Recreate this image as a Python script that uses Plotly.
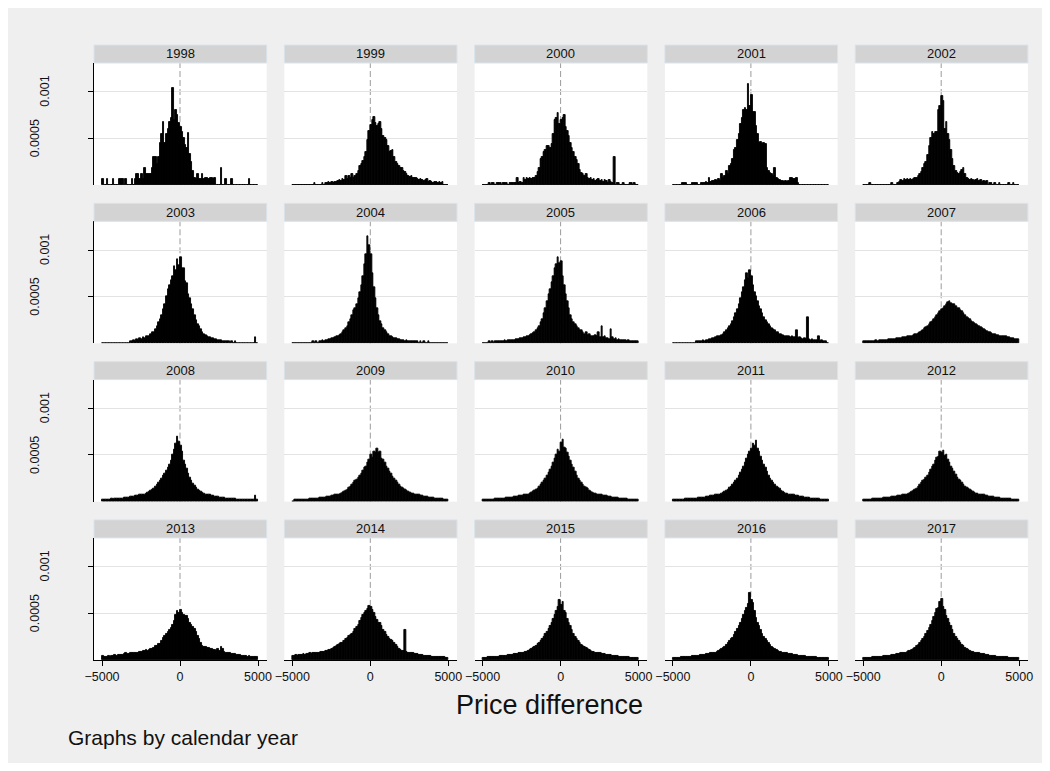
import plotly.graph_objects as go

# Histogram densities of the price difference, one list per calendar year.
# Bins are 100 wide, from -5000 to 5000; values are in units of 1e-5.
bin_width = 100
bin_centers = [-4950 + bin_width * i for i in range(100)]

d1998 = [6, 0, 0, 6, 0, 0, 0, 6, 0, 0,
         0, 6, 6, 6, 0, 6, 0, 0, 0, 6,
         0, 6, 12, 12, 6, 12, 6, 18, 12, 12,
         12, 12, 18, 30, 30, 22, 30, 45, 55, 68,
         45, 55, 60, 67, 72, 104, 70, 80, 75, 66,
         62, 57, 50, 43, 40, 56, 33, 25, 15, 8,
         6, 12, 6, 6, 12, 6, 7, 7, 6, 7,
         7, 6, 7, 0, 0, 0, 18, 0, 0, 6,
         0, 0, 0, 6, 0, 0, 0, 0, 0, 0,
         0, 0, 0, 0, 6, 0, 0, 0, 0, 0]
d1999 = [0, 0, 0, 0, 0, 0, 0, 0, 0, 0,
         0, 0, 0, 0, 2, 0, 0, 0, 0, 2,
         0, 2, 2, 3, 2, 3, 2, 3, 3, 4,
         5, 4, 6, 5, 10, 6, 10, 8, 12, 8,
         10, 12, 15, 20, 22, 26, 30, 35, 48, 58,
         64, 70, 73, 66, 63, 65, 68, 60, 52, 50,
         48, 42, 35, 36, 38, 30, 25, 22, 20, 18,
         18, 15, 14, 12, 10, 9, 10, 8, 7, 8,
         6, 5, 6, 5, 4, 5, 6, 3, 4, 3,
         2, 3, 3, 2, 3, 2, 3, 0, 0, 0]
d2000 = [0, 0, 0, 0, 2, 0, 2, 2, 0, 2,
         2, 2, 0, 2, 2, 2, 0, 2, 2, 2,
         2, 2, 8, 2, 3, 2, 7, 5, 7, 6,
         7, 6, 7, 8, 10, 14, 18, 28, 30, 35,
         38, 42, 42, 40, 44, 55, 70, 72, 77, 65,
         70, 72, 75, 62, 58, 52, 45, 40, 35, 30,
         27, 22, 16, 13, 12, 10, 12, 8, 6, 7,
         5, 6, 4, 5, 6, 4, 5, 3, 5, 4,
         2, 5, 3, 2, 30, 0, 2, 2, 0, 0,
         2, 0, 0, 0, 2, 2, 0, 2, 0, 0]
d2001 = [0, 0, 0, 0, 0, 0, 2, 2, 2, 0,
         0, 0, 2, 2, 2, 2, 0, 0, 2, 2,
         2, 3, 2, 8, 3, 4, 4, 5, 4, 6,
         4, 12, 8, 10, 15, 12, 20, 22, 28, 38,
         40, 48, 55, 65, 72, 80, 82, 80, 108, 85,
         97, 78, 78, 63, 55, 45, 46, 44, 45, 44,
         18, 15, 13, 12, 10, 18, 8, 6, 5, 4,
         4, 3, 4, 3, 4, 8, 8, 6, 6, 7,
         2, 0, 0, 0, 0, 0, 0, 0, 0, 0,
         0, 0, 0, 0, 0, 0, 0, 0, 0, 0]
d2002 = [0, 0, 0, 0, 2, 0, 0, 0, 0, 0,
         0, 0, 0, 0, 0, 0, 0, 0, 2, 0,
         0, 0, 2, 3, 5, 4, 6, 5, 6, 5,
         6, 5, 6, 7, 8, 10, 12, 14, 18, 22,
         25, 32, 42, 50, 57, 55, 57, 57, 80, 85,
         95, 90, 60, 67, 55, 48, 38, 28, 20, 15,
         13, 12, 14, 16, 18, 12, 8, 6, 5, 6,
         5, 4, 5, 6, 4, 5, 3, 4, 3, 4,
         0, 2, 2, 0, 2, 0, 0, 2, 0, 0,
         0, 0, 0, 2, 0, 0, 2, 0, 0, 0]
d2003 = [0, 0, 0, 0, 0, 0, 0, 0, 0, 0,
         0, 0, 0, 0, 0, 0, 0, 0, 2, 2,
         3, 2, 4, 3, 5, 4, 6, 5, 7, 8,
         8, 10, 12, 12, 15, 18, 22, 26, 30, 36,
         42, 50, 58, 62, 68, 72, 82, 78, 90, 84,
         92, 80, 80, 66, 64, 52, 48, 42, 36, 30,
         25, 20, 18, 15, 12, 10, 9, 8, 6, 6,
         5, 5, 4, 4, 3, 3, 3, 2, 2, 2,
         2, 2, 0, 2, 0, 2, 0, 0, 0, 0,
         0, 0, 0, 0, 0, 0, 0, 0, 6, 0]
d2004 = [0, 0, 0, 0, 0, 0, 0, 0, 0, 0,
         0, 0, 0, 2, 0, 2, 0, 2, 2, 3,
         2, 3, 3, 4, 4, 5, 5, 6, 7, 8,
         9, 10, 12, 14, 16, 18, 22, 26, 30, 35,
         38, 42, 48, 55, 62, 72, 85, 95, 115, 105,
         95, 75, 60, 48, 38, 30, 24, 20, 16, 14,
         12, 10, 8, 7, 6, 5, 5, 4, 4, 3,
         3, 3, 2, 3, 2, 2, 2, 2, 2, 2,
         2, 0, 2, 0, 2, 0, 0, 2, 0, 0,
         0, 0, 0, 0, 0, 0, 0, 0, 0, 0]
d2005 = [0, 0, 0, 0, 2, 0, 2, 0, 2, 2,
         2, 2, 2, 2, 3, 2, 3, 3, 3, 3,
         3, 4, 4, 4, 5, 5, 6, 6, 7, 8,
         9, 10, 11, 12, 14, 16, 18, 22, 26, 32,
         38, 45, 52, 58, 65, 72, 80, 85, 92, 86,
         88, 72, 62, 52, 45, 38, 30, 26, 22, 20,
         18, 16, 14, 14, 12, 10, 12, 9, 10, 8,
         8, 7, 9, 7, 12, 6, 18, 6, 8, 5,
         5, 4, 15, 6, 4, 5, 3, 4, 3, 3,
         3, 3, 2, 3, 2, 2, 2, 2, 2, 2]
d2006 = [0, 0, 0, 0, 0, 0, 0, 0, 0, 0,
         0, 0, 0, 0, 0, 2, 2, 2, 2, 3,
         2, 3, 3, 4, 4, 5, 5, 6, 7, 8,
         8, 9, 10, 12, 14, 16, 18, 20, 24, 28,
         32, 36, 42, 48, 55, 60, 68, 75, 70, 78,
         72, 62, 55, 50, 45, 40, 36, 32, 28, 25,
         22, 20, 18, 16, 15, 14, 12, 12, 10, 10,
         9, 8, 8, 7, 7, 6, 7, 6, 6, 14,
         5, 6, 5, 4, 5, 4, 28, 4, 3, 4,
         3, 3, 3, 8, 2, 3, 2, 2, 2, 0]
d2007 = [2, 2, 2, 2, 2, 2, 2, 2, 3, 2,
         3, 3, 3, 3, 3, 3, 4, 4, 4, 4,
         4, 5, 5, 5, 5, 6, 6, 6, 7, 7,
         8, 8, 9, 10, 10, 11, 12, 13, 14, 16,
         17, 18, 20, 22, 24, 26, 28, 30, 32, 34,
         36, 38, 40, 42, 44, 45, 43, 42, 42, 40,
         38, 37, 35, 34, 32, 30, 28, 27, 26, 24,
         22, 21, 20, 19, 18, 17, 16, 15, 14, 13,
         12, 12, 11, 10, 10, 9, 9, 8, 8, 7,
         7, 7, 6, 6, 5, 5, 5, 4, 4, 4]
d2008 = [2, 2, 2, 2, 2, 2, 3, 2, 3, 3,
         3, 3, 3, 3, 4, 4, 4, 4, 5, 5,
         5, 6, 6, 6, 7, 7, 8, 8, 9, 10,
         11, 12, 13, 14, 16, 18, 20, 22, 25, 28,
         30, 33, 36, 40, 44, 50, 56, 62, 70, 64,
         60, 54, 44, 40, 35, 30, 26, 22, 19, 17,
         15, 13, 12, 11, 10, 9, 8, 8, 7, 7,
         6, 6, 5, 5, 5, 4, 4, 4, 4, 3,
         3, 3, 3, 3, 3, 3, 2, 2, 2, 2,
         2, 2, 2, 2, 2, 2, 2, 2, 6, 2]
d2009 = [0, 2, 2, 2, 2, 2, 2, 2, 2, 2,
         2, 3, 3, 3, 3, 3, 3, 4, 4, 4,
         4, 4, 5, 5, 5, 6, 6, 7, 7, 8,
         8, 9, 10, 11, 12, 13, 15, 16, 18, 20,
         22, 24, 26, 28, 30, 33, 36, 38, 42, 45,
         50, 47, 54, 52, 57, 52, 54, 46, 45, 42,
         38, 35, 32, 30, 27, 25, 22, 20, 18, 16,
         15, 14, 13, 12, 11, 10, 9, 9, 8, 8,
         7, 7, 6, 6, 5, 5, 5, 4, 4, 4,
         4, 3, 3, 3, 3, 3, 3, 2, 2, 2]
d2010 = [2, 2, 2, 2, 2, 2, 2, 2, 3, 3,
         3, 3, 3, 3, 3, 4, 4, 4, 4, 4,
         5, 5, 5, 6, 6, 6, 7, 7, 8, 8,
         9, 10, 11, 12, 13, 14, 16, 18, 20, 22,
         25, 28, 31, 34, 38, 42, 46, 50, 56, 54,
         63, 66, 58, 57, 52, 48, 44, 40, 36, 32,
         28, 25, 22, 20, 18, 16, 15, 14, 12, 11,
         10, 9, 9, 8, 8, 7, 7, 6, 6, 6,
         5, 5, 5, 4, 4, 4, 4, 3, 3, 3,
         3, 3, 3, 2, 2, 2, 2, 2, 2, 2]
d2011 = [2, 2, 2, 2, 2, 2, 2, 2, 3, 3,
         3, 3, 3, 3, 3, 3, 4, 4, 4, 4,
         4, 5, 5, 5, 6, 6, 6, 7, 7, 8,
         8, 9, 10, 11, 12, 13, 15, 16, 18, 20,
         22, 25, 28, 31, 34, 38, 42, 46, 50, 54,
         57, 62, 60, 65, 57, 54, 48, 44, 40, 36,
         32, 28, 25, 22, 20, 18, 16, 15, 14, 12,
         11, 10, 9, 9, 8, 8, 7, 7, 6, 6,
         6, 5, 5, 5, 4, 4, 4, 4, 3, 3,
         3, 3, 3, 3, 2, 2, 2, 2, 2, 2]
d2012 = [2, 2, 2, 2, 2, 2, 3, 3, 3, 3,
         3, 3, 3, 4, 4, 4, 4, 4, 5, 5,
         5, 5, 6, 6, 6, 7, 7, 8, 8, 9,
         10, 11, 12, 13, 14, 16, 18, 20, 22, 24,
         26, 28, 31, 34, 37, 40, 44, 47, 48, 54,
         52, 55, 49, 50, 45, 42, 38, 35, 32, 29,
         26, 24, 22, 20, 18, 16, 15, 14, 13, 12,
         11, 10, 9, 9, 8, 8, 7, 7, 6, 6,
         5, 5, 5, 5, 4, 4, 4, 4, 3, 3,
         3, 3, 3, 3, 3, 2, 2, 2, 2, 2]
d2013 = [4, 3, 3, 3, 4, 3, 4, 4, 5, 4,
         5, 5, 5, 5, 6, 7, 6, 6, 7, 7,
         7, 8, 8, 8, 9, 9, 10, 10, 11, 10,
         11, 12, 12, 13, 15, 15, 17, 17, 20, 24,
         26, 28, 30, 32, 34, 38, 42, 48, 52, 50,
         54, 50, 48, 47, 47, 44, 40, 38, 35, 33,
         30, 26, 22, 18, 15, 14, 14, 13, 13, 12,
         12, 11, 11, 10, 12, 10, 14, 12, 9, 8,
         8, 7, 7, 6, 6, 6, 5, 5, 5, 4,
         4, 4, 4, 3, 4, 3, 3, 3, 3, 3]
d2014 = [4, 4, 5, 4, 5, 5, 5, 6, 5, 6,
         6, 7, 6, 7, 7, 8, 8, 8, 9, 9,
         9, 10, 10, 11, 11, 12, 13, 14, 15, 16,
         17, 18, 18, 20, 22, 24, 26, 27, 28, 30,
         33, 35, 38, 42, 45, 48, 50, 52, 55, 58,
         57, 54, 50, 46, 43, 40, 40, 36, 32, 30,
         27, 25, 23, 21, 20, 18, 16, 14, 12, 11,
         10, 10, 32, 9, 8, 8, 7, 7, 6, 6,
         6, 5, 5, 5, 4, 4, 4, 4, 4, 3,
         3, 3, 3, 3, 3, 3, 3, 3, 2, 2]
d2015 = [2, 2, 2, 3, 3, 3, 3, 3, 3, 3,
         3, 4, 4, 4, 4, 4, 5, 5, 5, 5,
         6, 6, 6, 7, 7, 8, 8, 9, 9, 10,
         11, 12, 13, 14, 15, 17, 18, 20, 22, 25,
         28, 30, 33, 36, 40, 44, 48, 53, 57, 64,
         59, 62, 52, 50, 44, 40, 36, 32, 28, 25,
         22, 20, 18, 16, 15, 14, 13, 12, 11, 10,
         9, 9, 8, 8, 7, 7, 6, 6, 6, 5,
         5, 5, 5, 4, 4, 4, 4, 3, 3, 3,
         3, 3, 3, 3, 2, 2, 2, 2, 2, 2]
d2016 = [2, 2, 2, 2, 2, 3, 3, 3, 3, 3,
         3, 3, 4, 4, 4, 4, 4, 5, 5, 5,
         5, 6, 6, 6, 7, 7, 8, 8, 9, 10,
         11, 12, 13, 14, 16, 18, 20, 22, 24, 27,
         30, 33, 36, 40, 44, 48, 52, 56, 60, 72,
         64, 61, 52, 45, 40, 36, 32, 28, 25, 22,
         20, 18, 16, 14, 13, 12, 11, 10, 9, 9,
         8, 8, 7, 7, 6, 6, 6, 5, 5, 5,
         4, 4, 4, 4, 4, 3, 3, 3, 3, 3,
         3, 3, 2, 2, 2, 2, 2, 2, 2, 2]
d2017 = [2, 2, 2, 2, 2, 2, 3, 3, 3, 3,
         3, 3, 3, 4, 4, 4, 4, 4, 5, 5,
         5, 6, 6, 6, 7, 7, 8, 8, 9, 10,
         10, 11, 12, 13, 15, 16, 18, 20, 22, 25,
         28, 31, 34, 38, 42, 46, 50, 55, 56, 62,
         65, 57, 54, 47, 44, 40, 36, 32, 28, 25,
         22, 20, 18, 16, 15, 13, 12, 11, 10, 9,
         9, 8, 8, 7, 7, 6, 6, 6, 5, 5,
         5, 4, 4, 4, 4, 3, 3, 3, 3, 3,
         3, 3, 3, 2, 2, 2, 2, 2, 2, 2]

years = list(range(1998, 2018))
density = dict(zip(years, [d1998, d1999, d2000, d2001, d2002, d2003, d2004,
                           d2005, d2006, d2007, d2008, d2009, d2010, d2011,
                           d2012, d2013, d2014, d2015, d2016, d2017]))
unit = 1e-5

x_ticks = [-5000, 0, 5000]
y_ticks = [0.0005, 0.001]
y_tick_text = ["0.0005", "0.001"]

# Page geometry (pixels)
W, H = 1050, 771
n_cols, n_rows = 5, 4
col_left0, col_pitch, panel_w = 94.0, 190.3, 172.7
strip_top0, row_pitch, strip_h, plot_h = 45.0, 158.3, 18.0, 122.0
x_range = [-5513, 5558]
y_range = [0, 0.0013076]


def px(x):
    return x / W


def py(y):
    return 1 - y / H


BG = "#efefef"
FONT = "Liberation Sans, Arial, sans-serif"

fig = go.Figure()
layout = dict(
    width=W, height=H,
    margin=dict(l=0, r=0, t=0, b=0, pad=0),
    paper_bgcolor=BG,
    plot_bgcolor="white",
    showlegend=False,
    bargap=0,
    font=dict(family=FONT, color="#111111"),
)
shapes = []
annotations = []

for k, year in enumerate(years):
    r, c = divmod(k, n_cols)
    n = k + 1
    xs = "" if n == 1 else str(n)
    left = col_left0 + c * col_pitch
    right = left + panel_w
    s_top = strip_top0 + r * row_pitch
    p_top = s_top + strip_h
    p_bot = p_top + plot_h

    fig.add_trace(go.Bar(
        x=bin_centers,
        y=[v * unit for v in density[year]],
        width=bin_width,
        marker=dict(color="black", line=dict(color="black", width=0.9)),
        xaxis="x" + xs, yaxis="y" + xs,
        hoverinfo="skip",
    ))

    bottom_row = (r == n_rows - 1)
    first_col = (c == 0)
    layout["xaxis" + xs] = dict(
        domain=[px(left), px(right)],
        anchor="y" + xs,
        range=x_range,
        automargin=False,
        showgrid=False, zeroline=False,
        tickvals=x_ticks,
        showticklabels=bottom_row,
        ticks="outside" if bottom_row else "",
        ticklen=5, tickwidth=1, tickcolor="black",
        showline=bottom_row, linecolor="black", linewidth=1,
        tickfont=dict(size=12.5, color="#111111"),
        fixedrange=True,
    )
    layout["yaxis" + xs] = dict(
        domain=[py(p_bot), py(p_top)],
        anchor="x" + xs,
        range=y_range,
        automargin=False,
        tickvals=y_ticks,
        showgrid=True, gridcolor="#e3e3e3", gridwidth=1,
        zeroline=False,
        showticklabels=False,
        ticks="outside" if first_col else "",
        ticklen=5, tickwidth=1, tickcolor="black",
        showline=first_col, linecolor="black", linewidth=1,
        fixedrange=True,
    )

    # strip with the year
    shapes.append(dict(
        type="rect", xref="paper", yref="paper",
        x0=px(left), x1=px(right), y0=py(p_top), y1=py(s_top),
        fillcolor="#d3d3d3", line=dict(color="#d9e4ec", width=1),
        layer="above",
    ))
    annotations.append(dict(
        text=str(year), xref="paper", yref="paper",
        x=px((left + right) / 2), y=py(s_top + strip_h / 2),
        xanchor="center", yanchor="middle", showarrow=False,
        font=dict(size=13, color="#111111"),
    ))

    # dashed reference line at zero difference
    shapes.append(dict(
        type="line", xref="x" + xs, yref="y" + xs + " domain",
        x0=0, x1=0, y0=0, y1=1,
        line=dict(color="#9b9b9b", width=1, dash="6px,3px"),
        layer="below",
    ))

    if first_col:
        for val, txt, xoff in zip(y_ticks, y_tick_text, [35, 45]):
            annotations.append(dict(
                text=txt, xref="paper", yref="y" + xs,
                x=px(xoff), y=val, textangle=-90,
                xanchor="center", yanchor="middle", showarrow=False,
                font=dict(size=12.5, color="#111111"),
            ))

# white frame around the graph region
shapes.append(dict(
    type="rect", xref="paper", yref="paper", x0=0, x1=1, y0=0, y1=1,
    line=dict(color="white", width=16), fillcolor="rgba(0,0,0,0)",
    layer="above",
))

annotations.append(dict(
    text="Price difference", xref="paper", yref="paper",
    x=px(549), y=py(705), xanchor="center", yanchor="middle",
    showarrow=False, font=dict(size=27, color="#111111"),
))
annotations.append(dict(
    text="Graphs by calendar year", xref="paper", yref="paper",
    x=px(66), y=py(737), xanchor="left", yanchor="middle",
    showarrow=False, font=dict(size=21, color="#111111"),
))

layout["shapes"] = shapes
layout["annotations"] = annotations
fig.update_layout(**layout)
fig.write_html("out.html")
